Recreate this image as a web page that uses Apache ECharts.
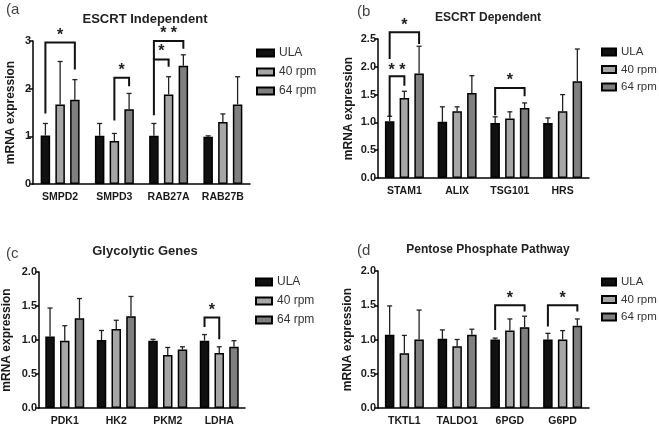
<!DOCTYPE html>
<html>
<head>
<meta charset="utf-8">
<script src="https://cdn.jsdelivr.net/npm/echarts@6/dist/echarts.min.js"></script>
<style>
  html, body { margin: 0; padding: 0; background: #fff; }
  #chart { width: 659px; height: 427px; }
</style>
</head>
<body>
<div id="chart"></div>
<script>
// group names
const groups = ['ULA', '40 rpm', '64 rpm'];

// (a) ESCRT independent
const catsA = ['SMPD2', 'SMPD3', 'RAB27A', 'RAB27B'];
const ulaA = [1.02, 1.01, 1.01, 0.99];
const ulaSdA = [0.25, 0.26, 0.26, 0.02];
const rpm40A = [1.67, 0.90, 1.88, 1.30];
const rpm40SdA = [0.90, 0.16, 0.37, 0.17];
const rpm64A = [1.77, 1.57, 2.48, 1.67];
const rpm64SdA = [0.42, 0.33, 0.23, 0.58];
// [category, from group, to group, left leg bottom, right leg bottom, top, star y, label]
const sigA = [
  [0, 0, 2, 1.48, 2.40, 2.97, 3.15, '*'],
  [1, 1, 2, 1.33, 2.05, 2.23, 2.42, '*'],
  [2, 0, 1, 1.44, 2.46, 2.61, 2.81, '*'],
  [2, 0, 2, 2.61, 2.84, 3.00, 3.19, '* *']
];

// (b) ESCRT dependent
const catsB = ['STAM1', 'ALIX', 'TSG101', 'HRS'];
const ulaB = [1.02, 1.01, 0.99, 0.99];
const ulaSdB = [0.09, 0.27, 0.11, 0.09];
const rpm40B = [1.44, 1.20, 1.07, 1.20];
const rpm40SdB = [0.12, 0.08, 0.12, 0.30];
const rpm64B = [1.88, 1.53, 1.26, 1.74];
const rpm64SdB = [0.49, 0.31, 0.09, 0.58];
const sigB = [
  [0, 0, 2, 2.14, 2.41, 2.62, 2.77, '*'],
  [0, 0, 1, 1.10, 1.66, 1.83, 1.96, '* *'],
  [2, 0, 2, 1.13, 1.47, 1.62, 1.78, '*']
];

// (c) glycolytic genes
const catsC = ['PDK1', 'HK2', 'PKM2', 'LDHA'];
const ulaC = [1.05, 1.00, 0.99, 0.99];
const ulaSdC = [0.42, 0.14, 0.02, 0.09];
const rpm40C = [0.99, 1.16, 0.78, 0.81];
const rpm40SdC = [0.22, 0.13, 0.11, 0.09];
const rpm64C = [1.32, 1.35, 0.86, 0.90];
const rpm64SdC = [0.29, 0.29, 0.04, 0.09];
const sigC = [
  [3, 0, 1, 1.19, 1.01, 1.33, 1.46, '*']
];

// (d) pentose phosphate pathway
const catsD = ['TKTL1', 'TALDO1', '6PGD', 'G6PD'];
const ulaD = [1.07, 1.01, 1.00, 1.00];
const ulaSdD = [0.42, 0.13, 0.02, 0.09];
const rpm40D = [0.80, 0.90, 1.13, 1.00];
const rpm40SdD = [0.26, 0.10, 0.17, 0.13];
const rpm64D = [1.00, 1.07, 1.18, 1.20];
const rpm64SdD = [0.43, 0.08, 0.16, 0.10];
const sigD = [
  [2, 0, 2, 1.14, 1.41, 1.50, 1.63, '*'],
  [3, 0, 2, 1.19, 1.41, 1.50, 1.63, '*']
];

const panels = [
  { label: '(a', title: 'ESCRT Independent', titleSize: 13, cats: catsA,
    means: [ulaA, rpm40A, rpm64A], sds: [ulaSdA, rpm40SdA, rpm64SdA], sig: sigA,
    max: 3, interval: 1, digits: 0, nameGap: 16,
    grid: { left: 33, top: 41, width: 217, height: 143 },
    legend: { left: 254, top: 45, w: 17, font: 12, gap: 7 }, titlePos: [140, 8], labelPos: [1, -3] },
  { label: '(b', title: 'ESCRT Dependent', titleSize: 12, cats: catsB,
    means: [ulaB, rpm40B, rpm64B], sds: [ulaSdB, rpm40SdB, rpm64SdB], sig: sigB,
    max: 2.5, interval: 0.5, digits: 1, nameGap: 23,
    grid: { left: 378, top: 39, width: 211, height: 139 },
    legend: { left: 599, top: 44, w: 14, font: 11.5, gap: 5.5 }, titlePos: [483, 7], labelPos: [352, -1] },
  { label: '(c', title: 'Glycolytic Genes', titleSize: 13, cats: catsC,
    means: [ulaC, rpm40C, rpm64C], sds: [ulaSdC, rpm40SdC, rpm64SdC], sig: sigC,
    max: 2, interval: 0.5, digits: 1, nameGap: 26,
    grid: { left: 36, top: 272, width: 209, height: 137 },
    legend: { left: 253, top: 274, w: 16, font: 12, gap: 7 }, titlePos: [140, 240], labelPos: [1, 241] },
  { label: '(d', title: 'Pentose Phosphate Pathway', titleSize: 12, cats: catsD,
    means: [ulaD, rpm40D, rpm64D], sds: [ulaSdD, rpm40SdD, rpm64SdD], sig: sigD,
    max: 2, interval: 0.5, digits: 1, nameGap: 24,
    grid: { left: 378, top: 271, width: 211, height: 138 },
    legend: { left: 599, top: 274, w: 14, font: 11.5, gap: 5.5 }, titlePos: [483, 239], labelPos: [352, 238] }
];

const BAR_W = 9.5;
const BAR_GAP = 0.55;
const BAR_STEP = BAR_W * (1 + BAR_GAP);
const fills = ['#111111', '#a6a6a6', '#7f7f7f'];

function errItem(params, api) {
  const cat = api.value(0), g = api.value(1);
  const mean = api.value(2), sd = api.value(3);
  const base = api.coord([cat, mean]);
  const top = api.coord([cat, mean + sd]);
  const x = base[0] + (g - 1) * BAR_STEP;
  const st = { stroke: '#222', lineWidth: 1.3 };
  return {
    type: 'group',
    children: [
      { type: 'line', shape: { x1: x, y1: base[1], x2: x, y2: top[1] }, style: st },
      { type: 'line', shape: { x1: x - 2.5, y1: top[1], x2: x + 2.5, y2: top[1] }, style: st }
    ]
  };
}

function sigItem(params, api) {
  const cat = api.value(0);
  const xl = api.coord([cat, 0])[0] + (api.value(1) - 1) * BAR_STEP;
  const xr = api.coord([cat, 0])[0] + (api.value(2) - 1) * BAR_STEP;
  const yl = api.coord([cat, api.value(3)])[1];
  const yr = api.coord([cat, api.value(4)])[1];
  const yt = api.coord([cat, api.value(5)])[1];
  const ys = api.coord([cat, api.value(6)])[1];
  return {
    type: 'group',
    children: [
      { type: 'polyline', shape: { points: [[xl, yl], [xl, yt], [xr, yt], [xr, yr]] },
        style: { stroke: '#111', lineWidth: 2, fill: null } },
      { type: 'text', x: (xl + xr) / 2, y: ys + 2,
        style: { text: api.value(7), fill: '#222', font: 'bold 16px "Liberation Sans", Arial',
                 align: 'center', verticalAlign: 'middle' } }
    ]
  };
}

const titles = [], grids = [], xAxes = [], yAxes = [], legends = [], series = [];

panels.forEach((p, i) => {
  titles.push({ text: p.title, left: p.titlePos[0], top: p.titlePos[1], textAlign: 'center',
    textStyle: { fontFamily: '"Liberation Sans", Arial', fontSize: p.titleSize, fontWeight: 'bold', color: '#222' } });
  titles.push({ text: p.label, left: p.labelPos[0], top: p.labelPos[1],
    textStyle: { fontFamily: '"Liberation Sans", Arial', fontSize: 15, fontWeight: 'normal', color: '#444' } });
  grids.push(p.grid);
  xAxes.push({
    type: 'category', gridIndex: i, data: p.cats,
    axisLine: { lineStyle: { color: '#000', width: 1.5 } },
    axisTick: { alignWithLabel: true, length: 4, lineStyle: { color: '#000', width: 1.5 } },
    axisLabel: { interval: 0, color: '#1a1a1a', fontWeight: 'bold', fontSize: 10.5, margin: 8,
      fontFamily: '"Liberation Sans", Arial' }
  });
  yAxes.push({
    type: 'value', gridIndex: i, min: 0, max: p.max, interval: p.interval,
    name: 'mRNA expression', nameLocation: 'middle', nameGap: p.nameGap,
    nameTextStyle: { color: '#1a1a1a', fontWeight: 'bold', fontSize: 12,
      fontFamily: '"Liberation Sans", Arial' },
    axisLine: { show: true, lineStyle: { color: '#000', width: 1.5 } },
    axisTick: { show: true, length: 4, lineStyle: { color: '#000', width: 1.5 } },
    splitLine: { show: false },
    axisLabel: { color: '#1a1a1a', fontWeight: 'bold', fontSize: 11, margin: 2,
      fontFamily: '"Liberation Sans", Arial',
      formatter: v => v.toFixed(p.digits) }
  });
  legends.push({
    data: groups, orient: 'vertical', left: p.legend.left, top: p.legend.top,
    icon: 'rect', itemWidth: p.legend.w, itemHeight: 7, itemGap: p.legend.gap, padding: 2,
    textStyle: { color: '#333', fontSize: p.legend.font, fontFamily: '"Liberation Sans", Arial' }
  });
  groups.forEach((g, k) => {
    series.push({
      name: g, type: 'bar', xAxisIndex: i, yAxisIndex: i,
      data: p.means[k], barWidth: BAR_W, barGap: (BAR_GAP * 100) + '%',
      itemStyle: { color: fills[k], borderColor: '#000', borderWidth: 1.5 }
    });
  });
  const errData = [];
  p.means.forEach((arr, k) => arr.forEach((m, c) => errData.push([c, k, m, p.sds[k][c]])));
  series.push({
    name: 'err' + i, type: 'custom', xAxisIndex: i, yAxisIndex: i,
    renderItem: errItem, encode: { x: 0, y: 2 }, data: errData, z: 3
  });
  series.push({
    name: 'sig' + i, type: 'custom', xAxisIndex: i, yAxisIndex: i,
    renderItem: sigItem, encode: { x: 0, y: 5 }, data: p.sig, clip: false, z: 4
  });
});

const chart = echarts.init(document.getElementById('chart'));
chart.setOption({
  animation: false,
  backgroundColor: '#fff',
  title: titles,
  grid: grids,
  xAxis: xAxes,
  yAxis: yAxes,
  legend: legends,
  series: series
});
</script>
</body>
</html>
